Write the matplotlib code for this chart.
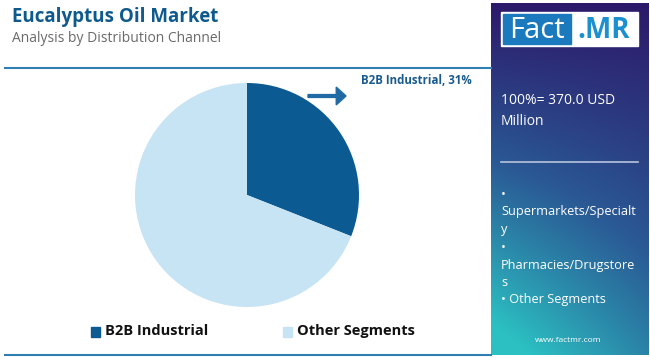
import numpy as np
import matplotlib.pyplot as plt
from matplotlib.patches import Rectangle, FancyArrow

segments = ["B2B Industrial", "Other Segments"]
shares = [31, 69]
colors = ["#0b5a92", "#c7e4f4"]
total_text = "100%= 370.0 USD\nMillion"
side_lines = ["•", "Supermarkets/Specialt", "y", "•", "Pharmacies/Drugstore", "s", "• Other Segments"]

plt.rcParams['font.family'] = ['Open Sans', 'DejaVu Sans']

W, H = 650, 357
fig = plt.figure(figsize=(W / 100, H / 100), dpi=100)
fig.patch.set_facecolor("white")

def fx(x):
    return x / W

def fy(y):
    return 1 - y / H

# title
fig.text(fx(12), fy(17), "Eucalyptus Oil Market", fontsize=13.5, fontweight="bold",
         color="#0e5a8c", va="center", ha="left")
fig.text(fx(12), fy(38), "Analysis by Distribution Channel", fontsize=10,
         color="#6a6a6a", va="center", ha="left")

# divider lines
fig.add_artist(plt.Line2D([fx(5), fx(491)], [fy(68), fy(68)], color="#2f7fb3", lw=1.5))
fig.add_artist(plt.Line2D([fx(5), fx(491)], [fy(355), fy(355)], color="#2f7fb3", lw=1.5))

# pie
r = 112
cx, cy = 247, 195
ax = fig.add_axes([fx(cx - r), fy(cy + r), 2 * r / W, 2 * r / H])
ax.pie(shares, colors=colors, startangle=90, counterclock=False,
       wedgeprops=dict(linewidth=0))
ax.set_aspect("auto")
ax.set_xlim(-1, 1)
ax.set_ylim(-1, 1)
ax.axis("off")

# arrow and label
fig.add_artist(FancyArrow(fx(308), fy(96), fx(346) - fx(308) - 0.015, 0,
                          width=0.008, head_width=0.05, head_length=0.015,
                          color="#1f6aa5", transform=fig.transFigure,
                          length_includes_head=False))
fig.text(fx(361), fy(80), f"{segments[0]}, {shares[0]}%", fontsize=8.3,
         fontweight="bold", color="#1a5b8f", va="center", ha="left")

# legend
for i, (lab, c) in enumerate(zip(segments, colors)):
    x0 = [91, 283][i]
    fig.add_artist(Rectangle((fx(x0), fy(337)), 9 / W, 10 / H, color=c,
                             transform=fig.transFigure))
    fig.text(fx(x0 + 14), fy(331), lab, fontsize=10.5, fontweight="bold",
             color="#111111", va="center", ha="left")

# right panel with gradient
pax = fig.add_axes([fx(491), fy(355), (648 - 491) / W, (355 - 3) / H])
n = 200
yy, xx = np.mgrid[0:1:n * 1j, 0:1:n * 1j]
t = np.clip(0.7 * yy + 0.4 * (1 - xx) * yy, 0, 1)
top = np.array([0x2d, 0x19, 0x6a]) / 255
mid = np.array([0x2a, 0x5a, 0x95]) / 255
bot = np.array([0x2c, 0xc0, 0xc2]) / 255
img = np.zeros((n, n, 3))
for k in range(3):
    img[..., k] = np.where(t < 0.5, top[k] + (mid[k] - top[k]) * t / 0.5,
                           mid[k] + (bot[k] - mid[k]) * (t - 0.5) / 0.5)
pax.imshow(img, aspect="auto", extent=[0, 1, 0, 1], origin="upper")
pax.axis("off")

# logo
fig.add_artist(Rectangle((fx(501), fy(46)), 137 / W, 34 / H, color="white",
                         transform=fig.transFigure))
fig.add_artist(Rectangle((fx(503), fy(44)), 68 / W, 30 / H, color="#1b79bd",
                         transform=fig.transFigure))
fig.text(fx(537), fy(38), "Fact", fontsize=21, color="white", va="baseline", ha="center")
fig.text(fx(604), fy(38), ".MR", fontsize=20, fontweight="bold", color="#1b8fd0",
         va="baseline", ha="center")

fig.text(fx(501), fy(111), total_text, fontsize=10, color="white", va="center",
         ha="left", linespacing=1.6)
fig.add_artist(plt.Line2D([fx(501), fx(638)], [fy(162), fy(162)], color="#b8c4dd", lw=1.2))

ys = [195, 212, 230, 247, 265, 282, 299]
for yv, s in zip(ys, side_lines):
    fig.text(fx(501), fy(yv), s, fontsize=9.2, color="white", va="center", ha="left")

fig.text(fx(568), fy(340), "www.factmr.com", fontsize=6, color="white",
         va="center", ha="center")

fig.savefig("out.png", dpi=100)
